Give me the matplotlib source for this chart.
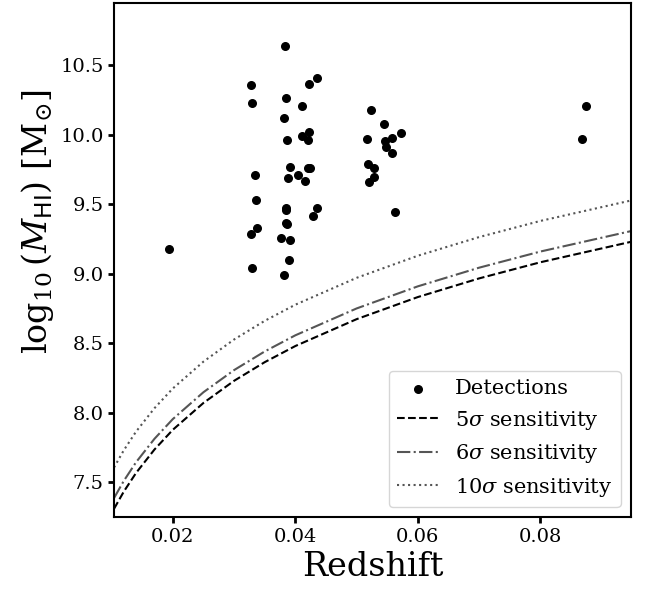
import numpy as np
import matplotlib
matplotlib.use('Agg')
import matplotlib.pyplot as plt

plt.rcParams['font.family'] = 'DejaVu Serif'
plt.rcParams['mathtext.fontset'] = 'dejavuserif'

# Detected galaxies: redshift and log10 HI mass
z_det = [0.0193, 0.0330, 0.0385, 0.0411, 0.0382, 0.0386, 0.0411, 0.0422, 0.0421,
         0.0334, 0.0391, 0.0388, 0.0405, 0.0415, 0.0421, 0.0424, 0.0336, 0.0384,
         0.0384, 0.0436, 0.0429, 0.0337, 0.0328, 0.0385, 0.0386, 0.0377, 0.0391,
         0.0389, 0.0524, 0.0545, 0.0572, 0.0517, 0.0546, 0.0548, 0.0557, 0.0558,
         0.0519, 0.0529, 0.0528, 0.0520, 0.0562, 0.0874, 0.0868, 0.0383, 0.0436,
         0.0422, 0.0328, 0.0329, 0.0382]
m_det = [9.175, 10.225, 10.265, 10.207, 10.119, 9.963, 9.992, 10.020, 9.963,
         9.711, 9.765, 9.690, 9.707, 9.666, 9.757, 9.762, 9.527, 9.470,
         9.458, 9.470, 9.412, 9.326, 9.283, 9.366, 9.355, 9.256, 9.244,
         9.098, 10.174, 10.077, 10.009, 9.967, 9.952, 9.913, 9.972, 9.867,
         9.786, 9.757, 9.697, 9.659, 9.443, 10.207, 9.968, 10.637, 10.404,
         10.366, 10.358, 9.041, 8.993]

# Sensitivity limits
z_sens = [0.0104, 0.012, 0.014, 0.017, 0.020, 0.025, 0.030, 0.035, 0.040,
          0.050, 0.060, 0.070, 0.080, 0.0948]
sens_5 = [7.310, 7.434, 7.568, 7.736, 7.878, 8.071, 8.230, 8.364, 8.480,
          8.673, 8.832, 8.966, 9.082, 9.229]
sens_6 = [7.387, 7.511, 7.645, 7.813, 7.955, 8.148, 8.307, 8.441, 8.557,
          8.750, 8.909, 9.043, 9.159, 9.306]
sens_10 = [7.607, 7.731, 7.865, 8.033, 8.175, 8.368, 8.527, 8.661, 8.777,
           8.970, 9.129, 9.263, 9.379, 9.526]

fig = plt.figure(figsize=(6.56, 5.91), dpi=100)
ax = fig.add_axes([0.1738, 0.1247, 0.962 - 0.1738, 0.9944 - 0.1247])

ax.scatter(z_det, m_det, s=30, color='black', label='Detections', zorder=3)
ax.plot(z_sens, sens_5, ls='--', color='black', lw=1.5, label=r'5$\sigma$ sensitivity')
ax.plot(z_sens, sens_6, ls='-.', color='#555555', lw=1.5, label=r'6$\sigma$ sensitivity')
ax.plot(z_sens, sens_10, ls=':', color='#555555', lw=1.5, label=r'10$\sigma$ sensitivity')

ax.set_xlim(0.0104, 0.0948)
ax.set_ylim(7.249, 10.943)
ax.set_xticks([0.02, 0.04, 0.06, 0.08])
ax.set_yticks([7.5, 8.0, 8.5, 9.0, 9.5, 10.0, 10.5])

ax.set_xlabel('Redshift', fontsize=24)
ax.set_ylabel(r'$\log_{10}(M_{\mathsf{HI}})$ [M$_{\odot}$]', fontsize=24)
ax.yaxis.set_label_coords(-0.112, 0.576)
ax.tick_params(labelsize=14, width=2, length=4)
for sp in ax.spines.values():
    sp.set_linewidth(1.5)

ax.legend(loc='lower right', fontsize=15)

fig.savefig('out.png', dpi=100)
